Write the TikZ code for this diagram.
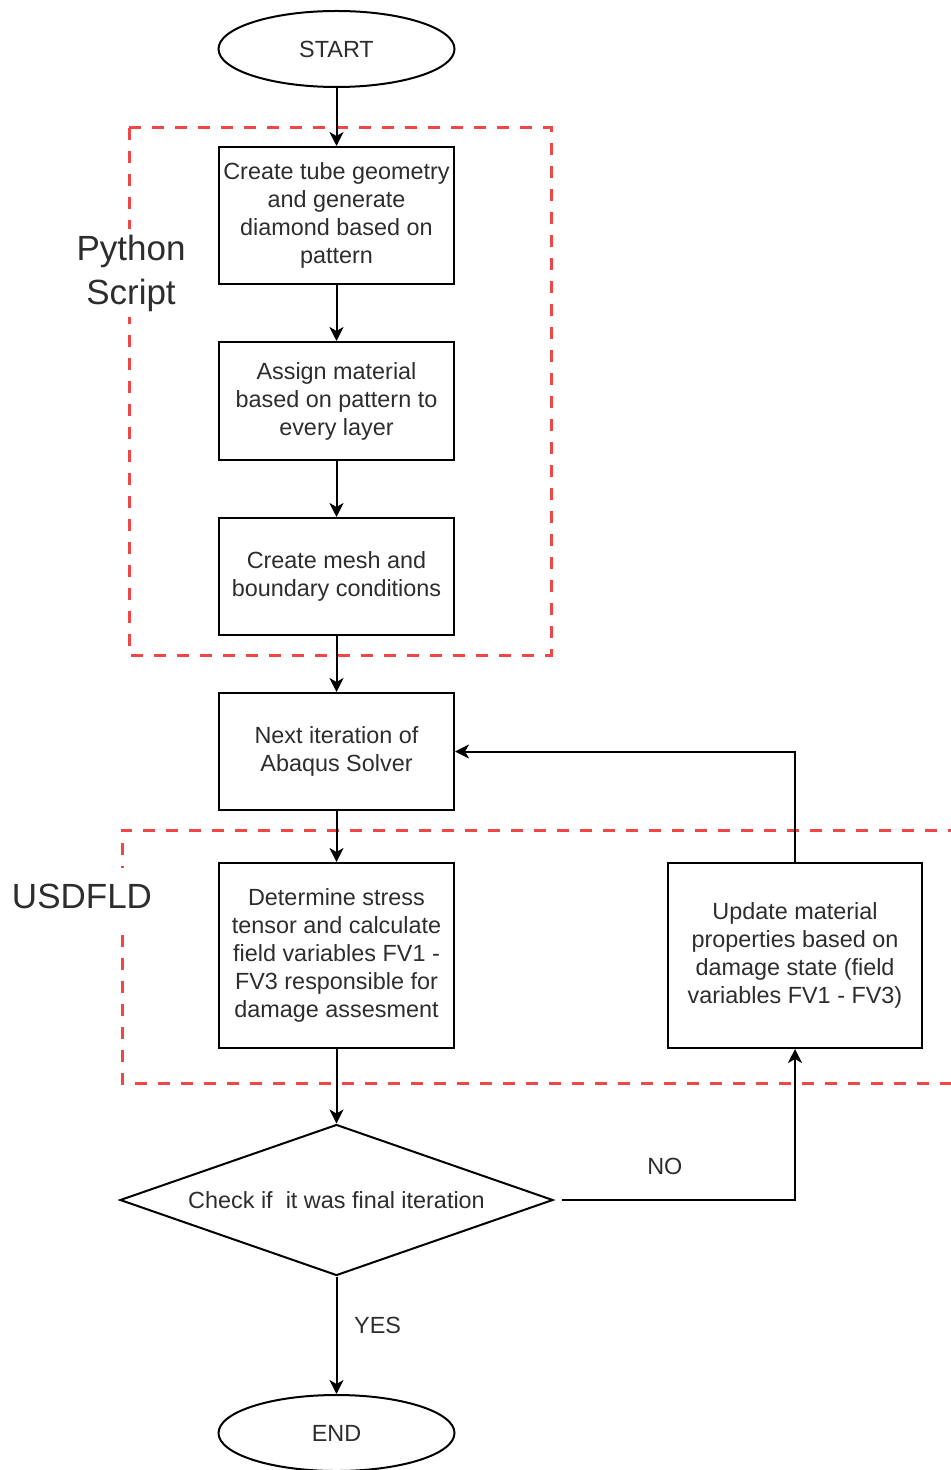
\documentclass[tikz,border=0pt]{standalone}
\usepackage{fontspec}
\setmainfont{Liberation Sans}
\usetikzlibrary{shapes.geometric,arrows.meta}
\definecolor{dashred}{RGB}{240,70,70}
\definecolor{txtgray}{RGB}{45,45,45}

\begin{document}
\begin{tikzpicture}[
    x=0.5pt, y=-0.5pt,
    every node/.style={font=\fontsize{11.7}{14}\selectfont, text=txtgray},
    process/.style={draw, line width=1pt, rectangle, minimum width=117.5pt, align=center, inner sep=0pt},
    terminal/.style={draw, line width=1pt, ellipse, minimum width=118pt, minimum height=38pt, inner sep=0pt},
    decision/.style={draw, line width=1pt, diamond, aspect=2.87, minimum width=216.5pt, minimum height=75.5pt, inner sep=0pt},
    region/.style={draw=dashred, line width=1.5pt, dash pattern=on 6pt off 5.5pt},
    regionlabel/.style={font=\fontsize{17.5}{22}\selectfont, fill=white, align=center, inner sep=1pt},
    flow/.style={draw, line width=1pt, -{Stealth[length=7pt,width=7pt,inset=2pt]}},
   ]

\useasboundingbox (0,0) rectangle (951,1470);
\clip (0,0) rectangle (951,1470);

\draw[region] (129,128) rectangle (551,655);
\draw[region] (960,830) -- (122,830) -- (122,1083) -- (960,1083);
\node[regionlabel, inner ysep=3pt] (pylabel) at (131,273) {Python\\Script};
\node[regionlabel, inner ysep=8pt] (usdlabel) at (82,896) {USDFLD};

\node[terminal] (start) at (336.5,49) {START};
\node[process, minimum height=68.5pt] (geometry) at (336.5,215.5)
    {Create tube geometry\\and generate\\diamond based on\\pattern};
\node[process, minimum height=59pt] (material) at (336.5,401)
    {Assign material\\based on pattern to\\every layer};
\node[process, minimum height=58.5pt] (mesh) at (336.5,576.5)
    {Create mesh and\\boundary conditions};
\node[process, minimum height=58.5pt] (solver) at (336.5,751.5)
    {Next iteration of\\Abaqus Solver};
\node[process, minimum height=92.5pt] (stress) at (336.5,955.5)
    {Determine stress\\tensor and calculate\\field variables FV1 -\\FV3 responsible for\\damage assesment};
\node[process, minimum width=127pt, minimum height=92.5pt] (update) at (795,955.5)
    {Update material\\properties based on\\damage state (field\\variables FV1 - FV3)};
\node[decision] (check) at (336.5,1200) {Check if\ \ it was final iteration};
\node[terminal] (end) at (336.5,1433) {END};

\draw[flow] (start) -- (geometry);
\draw[flow] (geometry) -- (material);
\draw[flow] (material) -- (mesh);
\draw[flow] (mesh) -- (solver);
\draw[flow] (solver) -- (stress);
\draw[flow] (stress) -- (check);
\draw[flow] (check) -- (end) node[pos=0.42, right=5pt] {YES};
\draw[flow, shorten <=4pt] (check.east) -| (update.south) node[pos=0.23, above=9pt] {NO};
\draw[flow] (update.north) |- (solver.east);

\end{tikzpicture}
\end{document}
